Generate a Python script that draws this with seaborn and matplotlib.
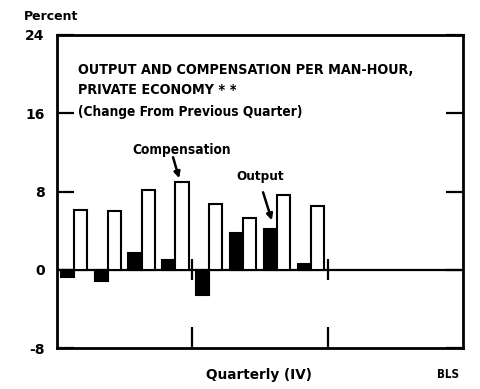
import matplotlib
matplotlib.use("Agg")
import matplotlib.pyplot as plt
import pandas as pd
import seaborn as sns

# Quarter-to-quarter change, private economy (percent)
quarters = [1, 2, 3, 4, 5, 6, 7, 8]
output_change = [-0.7, -1.15, 1.76, 0.97, -2.6, 3.76, 4.2, 0.56]
compensation_change = [6.15, 5.98, 8.2, 8.95, 6.77, 5.34, 7.6, 6.5]
series_names = ["Output", "Compensation"]
y_ticks = [-8, 0, 8, 16, 24]

df = pd.DataFrame({
    "quarter": quarters * 2,
    "value": output_change + compensation_change,
    "series": [series_names[0]] * len(quarters) + [series_names[1]] * len(quarters),
})

sns.set_style("ticks")
plt.rcParams["font.family"] = ["DejaVu Sans"]
plt.rcParams["text.color"] = "black"
plt.rcParams["xtick.color"] = "black"
plt.rcParams["ytick.color"] = "black"
cond = dict(family="DejaVu Sans", fontstretch="condensed", fontweight="bold", color="black")

fig = plt.figure(figsize=(4.8, 3.89), dpi=100)
ax = fig.add_axes([57 / 480, 41 / 389, 406 / 480, 313 / 389])

sns.barplot(
    data=df, x="quarter", y="value", hue="series",
    order=quarters, hue_order=series_names,
    palette={"Output": "black", "Compensation": "white"},
    edgecolor="black", linewidth=1.5, width=0.78, saturation=1,
    legend=False, ax=ax,
)

ax.set_xlim(-0.5, 11.5)
ax.set_ylim(-8, 24)
ax.axhline(0, color="black", lw=1.6, zorder=0.5)

# year dividers crossing the zero line
for xb in [3.5, 7.5]:
    ax.plot([xb, xb], [-1.0, 1.1], color="black", lw=1.6, solid_capstyle="butt")

ax.set_xticks([3.5, 7.5])
ax.set_xticklabels([])
ax.tick_params(axis="x", direction="in", length=15, width=1.6, bottom=True, top=False)
ax.set_yticks(y_ticks)
ax.set_yticklabels([str(v) for v in y_ticks], fontweight="bold", fontsize=10)
ax.tick_params(axis="y", direction="in", length=12, width=1.6, left=True, right=True, pad=9)
ax.set_xlabel("")
ax.set_ylabel("")
for s in ax.spines.values():
    s.set_visible(True)
    s.set_linewidth(2)
    s.set_color("black")

# titles inside the plot
ax.text(0.052, 0.888, "OUTPUT AND COMPENSATION PER MAN-HOUR,", transform=ax.transAxes,
        ha="left", va="center", fontsize=10.3, **cond)
ax.text(0.052, 0.824, "PRIVATE ECONOMY * *", transform=ax.transAxes,
        ha="left", va="center", fontsize=10.3, **cond)
ax.text(0.052, 0.754, "(Change From Previous Quarter)", transform=ax.transAxes,
        ha="left", va="center", fontsize=9.8, **cond)

arrow = dict(arrowstyle="-|>", lw=1.8, color="black", mutation_scale=9, shrinkA=0, shrinkB=0)
ax.text(3.19, 12.2, "Compensation", ha="center", va="center", fontsize=9.8, **cond)
ax.annotate("", xy=(3.11, 9.36), xytext=(2.93, 11.5), arrowprops=arrow)
ax.text(5.5, 9.5, "Output", ha="center", va="center", fontsize=9.6, **cond)
ax.annotate("", xy=(5.85, 5.06), xytext=(5.59, 7.92), arrowprops=arrow)

fig.text(51 / 480, 1 - 17 / 389, "Percent", ha="center", va="center",
         fontsize=9, fontweight="bold")
fig.text(259 / 480, 1 - 375 / 389, "Quarterly (IV)", ha="center", va="center",
         fontsize=9.8, fontweight="bold")
fig.text(448 / 480, 1 - 375 / 389, "BLS", ha="center", va="center", fontsize=8.3, **cond)

fig.savefig("out.png", dpi=100)
